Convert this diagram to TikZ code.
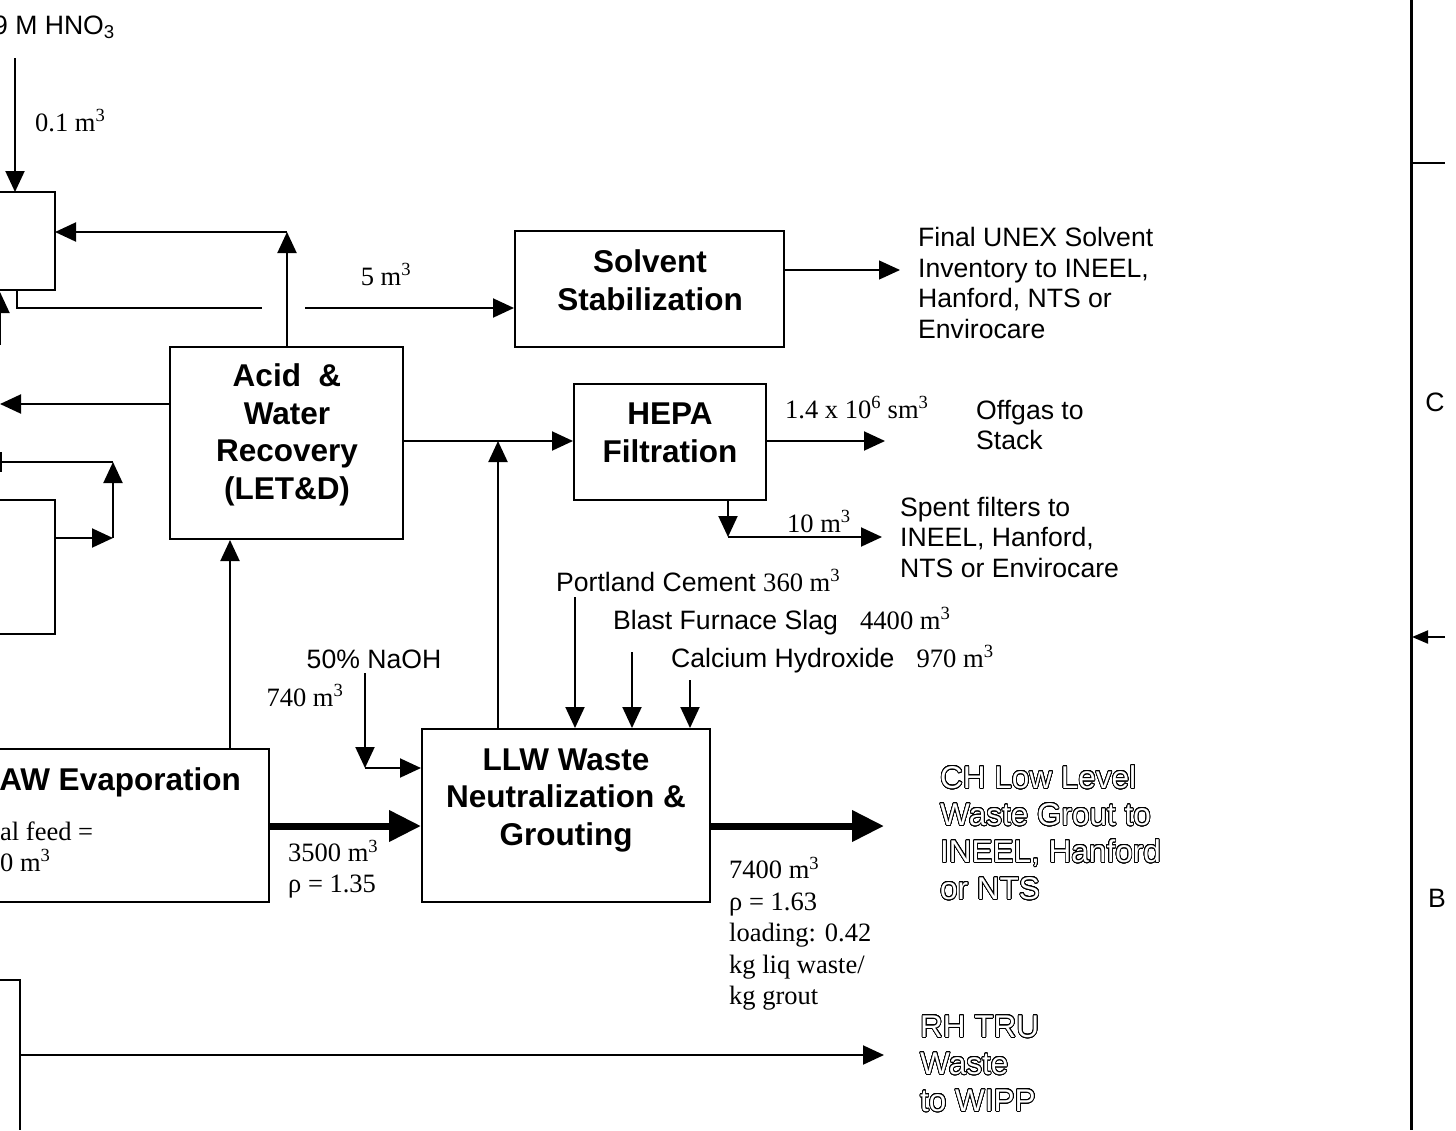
\documentclass[tikz,border=0pt]{standalone}
\usepackage{fontspec}
\setmainfont{Liberation Sans}
\newfontfamily\srf{Liberation Serif}
\usepackage{contour}
\contourlength{0.75pt}
\contournumber{32}
\usetikzlibrary{arrows.meta}
\tikzset{
  ln/.style={line width=2pt},
  arr/.style={line width=2pt, -{Triangle[length=21pt,width=19pt]}},
  tharr/.style={line width=7pt, -{Triangle[length=32pt,width=30pt]}},
  box/.style={draw, line width=2pt, inner sep=0pt},
  btxt/.style={inner sep=0pt, align=center, font=\fontsize{31.5}{37.5}\selectfont\bfseries},
  lbl/.style={inner sep=0pt, align=left, font=\fontsize{26.6}{30.5}\selectfont},
  slbl/.style={inner sep=0pt, align=left, font=\fontsize{26.5}{31.5}\selectfont\srf},
  olbl/.style={inner sep=0pt, align=left, text=white, font=\fontsize{31.5}{37}\selectfont},
}
\begin{document}
\begin{tikzpicture}[x=1pt,y=-1pt]
\useasboundingbox[fill=white] (0,0) rectangle (1456,1130);

% ---------- boxes ----------
\node[box, minimum width=269, minimum height=116] (solv) at (649.5,289) {};
\node[btxt] (solvt) at (650,280) {Solvent\\Stabilization};
\node[box, minimum width=233, minimum height=192] (acid) at (286.5,443) {};
\node[btxt] (acidt) at (287,435) {Acid\ \ \&\\Water\\Recovery\\(LET\&D)};
\node[box, minimum width=192, minimum height=116] (hepa) at (670,442) {};
\node[btxt] (hepat) at (670,433) {HEPA\\Filtration};
\node[box, minimum width=288, minimum height=173] (llw) at (566,815.5) {};
\node[btxt] (llwt) at (566,800) {LLW Waste\\Neutralization \&\\Grouting};

% partial boxes at the left edge
\draw[ln] (0,192) -- (55,192) -- (55,290) -- (0,290);
\draw[ln] (0,500) -- (55,500) -- (55,634) -- (0,634);
\draw[ln] (0,749) -- (269,749) -- (269,902) -- (0,902);
\draw[ln] (0,980) -- (20,980) -- (20,1130);
\coordinate (b1n) at (15,192);
\coordinate (b1e) at (55,232);
\coordinate (b1s) at (17,290);
\coordinate (b2e) at (55,538);
\coordinate (awn) at (230,749);
\coordinate (awe) at (269,826);
\coordinate (b3e) at (20,1055);

\node[btxt, anchor=base east] (awt) at (241,790) {AW Evaporation};
\node[slbl, anchor=base west] (feed1) at (0,840) {al feed =};
\node[slbl, anchor=base west] (feed2) at (0,871) {0 m\textsuperscript{3}};

% ---------- top-left feed ----------
\node[lbl, anchor=base east] (hno) at (115,34) {9 M HNO\textsubscript{3}};
\coordinate (hnos) at (15,58);
\draw[arr] (hnos) -- (b1n);
\node[slbl, anchor=base west] (l01) at (35,131) {0.1 m\textsuperscript{3}};

% acid top -> recycle to box 1
\coordinate (c232) at (287,232);
\draw[arr] (acid.north -| c232) -- (c232);
\draw[arr] (c232) -- (b1e);

% box1 bottom -> solvent stabilization (with line jump gap)
\coordinate (j1) at (262,308);
\coordinate (j2) at (305,308);
\draw[ln] (b1s) -- (17,308) -- (j1);
\draw[arr] (j2) -- (solv.west |- j2);
\node[slbl, anchor=base] (l5) at (386,285) {5 m\textsuperscript{3}};

% partial up arrow at far left
\coordinate (pa1) at (0,345);
\coordinate (pa2) at (0,292);
\draw[arr] (pa1) -- (pa2);

% acid left out
\coordinate (aleft) at (0,404);
\draw[arr] (acid.west |- aleft) -- (aleft);

% box2 loop
\coordinate (k1) at (113,538);
\coordinate (k2) at (113,462);
\coordinate (k3) at (0,462);
\draw[arr] (b2e) -- (k1);
\draw[arr] (k1) -- (k2);
\draw[ln] (k2) -- (k3);
\draw[ln] (1,452) -- (1,472);

% acid -> HEPA
\coordinate (h441) at (498,441);
\draw[arr] (acid.east |- h441) -- (hepa.west |- h441);
\draw[arr] (llw.north -| h441) -- (h441);

% AW -> acid
\draw[arr] (awn) -- (acid.south -| awn);

% solvent out
\coordinate (sout) at (900,270);
\draw[line width=1.2pt, -{Triangle[length=21pt,width=19pt]}] (solv.east |- sout) -- (sout);
\node[lbl, anchor=west] (fin) at (918,283) {Final UNEX Solvent\\Inventory to INEEL,\\Hanford, NTS or\\Envirocare};

% HEPA out
\coordinate (hout) at (885,441);
\draw[arr] (hepa.east |- hout) -- (hout);
\node[slbl, anchor=base west] (l14) at (785,418) {1.4 x 10\textsuperscript{6} sm\textsuperscript{3}};
\node[lbl, anchor=west] (off) at (976,425) {Offgas to\\Stack};

\coordinate (hb) at (728,537);
\coordinate (hbo) at (882,537);
\draw[arr] (hepa.south -| hb) -- (hb);
\draw[arr] (hb) -- (hbo);
\node[slbl, anchor=base west] (l10) at (787,532) {10 m\textsuperscript{3}};
\node[lbl, anchor=west] (spent) at (900,537) {Spent filters to\\INEEL, Hanford,\\NTS or Envirocare};

% grout additives
\node[lbl, anchor=base west] (pc) at (556,591) {Portland Cement {\srf 360 m\textsuperscript{3}}};
\node[lbl, anchor=base west] (bfs) at (613,629) {Blast Furnace Slag\ \ \ {\srf 4400 m\textsuperscript{3}}};
\node[lbl, anchor=base west] (ch) at (671,667) {Calcium Hydroxide\ \ \ {\srf 970 m\textsuperscript{3}}};
\coordinate (pcs) at (575,597);
\coordinate (bfss) at (632,652);
\coordinate (chs) at (690,680);
\draw[arr] (pcs) -- (llw.north -| pcs);
\draw[arr] (bfss) -- (llw.north -| bfss);
\draw[arr] (chs) -- (llw.north -| chs);

% NaOH
\node[lbl, anchor=base] (naoh) at (374,668) {50\% NaOH};
\node[slbl, anchor=base] (l740) at (305,706) {740 m\textsuperscript{3}};
\coordinate (ns) at (365,673);
\coordinate (nc) at (365,768);
\draw[arr] (ns) -- (nc);
\draw[arr] (nc) -- (llw.west |- nc);

% thick flows
\draw[tharr] (awe) -- (llw.west |- awe);
\node[slbl, anchor=west] (l3500) at (288,869) {3500 m\textsuperscript{3}\\ρ = 1.35};
\coordinate (gout) at (884,826);
\draw[tharr] (llw.east |- gout) -- (gout);
\node[slbl, anchor=west] (l7400) at (729,934) {7400 m\textsuperscript{3}\\ρ = 1.63\\loading: 0.42\\kg liq waste/\\kg grout};
\node[olbl, anchor=west] (chl) at (940,833) {\contour{black}{CH Low Level}\\\contour{black}{Waste Grout to}\\\contour{black}{INEEL, Hanford}\\\contour{black}{or NTS}};

% RH TRU
\coordinate (rout) at (884,1055);
\draw[arr] (b3e) -- (rout);
\node[olbl, anchor=west] (rh) at (920,1064) {\contour{black}{RH TRU}\\\contour{black}{Waste}\\\contour{black}{to WIPP}};

% right border
\coordinate (r0) at (1411,0);
\coordinate (r1) at (1411,1130);
\draw[line width=3pt] (r0) -- (r1);
\coordinate (t0) at (1411,163);
\coordinate (t1) at (1445,163);
\draw[line width=1.2pt] (t0) -- (t1);
\coordinate (a0) at (1445,637);
\coordinate (a1) at (1412,637);
\draw[line width=2pt, -{Triangle[length=16pt,width=13pt]}] (a0) -- (a1);
\node[lbl, anchor=base] (lc) at (1435,411) {C};
\node[lbl, anchor=base] (lb) at (1437,907) {B};
\end{tikzpicture}
\end{document}
